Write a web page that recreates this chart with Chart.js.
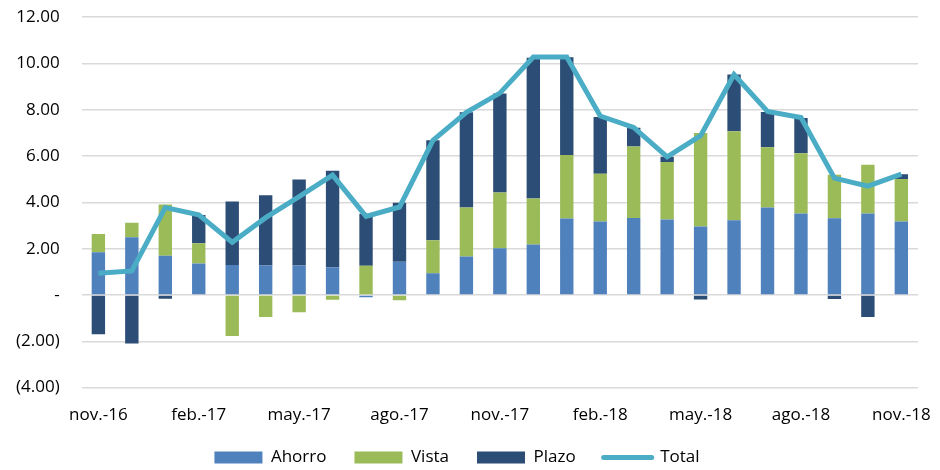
<!DOCTYPE html>
<html>
<head>
    <meta charset="UTF-8">
    <title>Ahorro, Vista, Plazo</title>
    <script src="https://cdn.jsdelivr.net/npm/chart.js"></script>
    <style>
        html, body { margin: 0; padding: 0; background: #fff; overflow: hidden; }
        #marco { position: relative; width: 940px; height: 470px; overflow: hidden; }
        #wrap { position: absolute; left: -14px; top: -15px; width: 954px; height: 491px; }
    </style>
</head>
<body>
    <div id="marco"><div id="wrap"><canvas id="chart"></canvas></div></div>
    <script>
        // meses
        var meses = ['nov.-16', 'dic.-16', 'ene.-17', 'feb.-17', 'mar.-17', 'abr.-17', 'may.-17', 'jun.-17',
            'jul.-17', 'ago.-17', 'sep.-17', 'oct.-17', 'nov.-17', 'dic.-17', 'ene.-18', 'feb.-18', 'mar.-18',
            'abr.-18', 'may.-18', 'jun.-18', 'jul.-18', 'ago.-18', 'sep.-18', 'oct.-18', 'nov.-18'];

        // series
        var ahorro = [1.85, 2.50, 1.70, 1.36, 1.30, 1.27, 1.27, 1.20, -0.10, 1.44, 0.94, 1.66, 2.02,
            2.18, 3.30, 3.17, 3.33, 3.26, 2.96, 3.23, 3.78, 3.52, 3.32, 3.52, 3.17];
        var vista = [0.79, 0.62, 2.21, 0.88, -1.77, -0.95, -0.75, -0.20, 1.26, -0.23, 1.43, 2.12, 2.41,
            1.99, 2.75, 2.07, 3.09, 2.48, 4.04, 3.84, 2.60, 2.60, 1.87, 2.11, 1.84];
        var plazo = [-1.70, -2.09, -0.16, 1.22, 2.74, 3.04, 3.72, 4.17, 2.25, 2.54, 4.31, 4.11, 4.27,
            6.08, 4.22, 2.45, 0.80, 0.23, -0.19, 2.45, 1.53, 1.53, -0.17, -0.95, 0.21];
        var total = [0.94, 1.04, 3.78, 3.46, 2.28, 3.34, 4.25, 5.18, 3.40, 3.80, 6.68, 7.89, 8.72,
            10.28, 10.28, 7.73, 7.24, 5.97, 6.88, 9.52, 7.93, 7.67, 5.05, 4.70, 5.22];

        var fuente = "'Open Sans', 'Liberation Sans', sans-serif";

        function formatoEje(v) {
            if (v === 0) return '-';
            if (v < 0) return '(' + Math.abs(v).toFixed(2) + ')';
            return v.toFixed(2);
        }

        // las etiquetas del eje x no se recortan al alto reducido del eje
        var sinRecorte = {
            id: 'sinRecorte',
            beforeDraw: function (chart) {
                chart.scales.x._computeLabelArea = function () { return undefined; };
            }
        };

        var ctx = document.getElementById('chart').getContext('2d');
        var chart = new Chart(ctx, {
            type: 'bar',
            data: {
                labels: meses,
                datasets: [
                    { label: 'Ahorro', data: ahorro, backgroundColor: '#4F81BD', stack: 's', order: 1,
                      barPercentage: 0.4, categoryPercentage: 1 },
                    { label: 'Vista', data: vista, backgroundColor: '#9BBB59', stack: 's', order: 1,
                      barPercentage: 0.4, categoryPercentage: 1 },
                    { label: 'Plazo', data: plazo, backgroundColor: '#2C4D75', stack: 's', order: 1,
                      barPercentage: 0.4, categoryPercentage: 1 },
                    { label: 'Total', data: total, type: 'line', borderColor: '#4BACC6', backgroundColor: '#4BACC6',
                      borderWidth: 5, pointRadius: 0, tension: 0, stack: 'total', order: 0 }
                ]
            },
            plugins: [sinRecorte],
            options: {
                responsive: true,
                maintainAspectRatio: false,
                animation: false,
                layout: { padding: { top: 0, right: 20, left: 8, bottom: 0 } },
                scales: {
                    x: {
                        stacked: true,
                        grid: { display: false },
                        border: { display: false },
                        afterFit: function (scale) { scale.height -= 13; },
                        ticks: {
                            autoSkip: false,
                            maxRotation: 0,
                            padding: 9,
                            color: '#000',
                            font: { family: fuente, size: 17 },
                            callback: function (v, i) { return i % 3 === 0 ? meses[i] : ''; }
                        }
                    },
                    y: {
                        stacked: true,
                        min: -4,
                        max: 12,
                        border: { display: false },
                        grid: { color: '#d9d9d9', lineWidth: 1.5, drawTicks: false },
                        ticks: {
                            stepSize: 2,
                            padding: 22,
                            color: '#000',
                            font: { family: fuente, size: 17 },
                            callback: function (v) { return formatoEje(v); }
                        }
                    }
                },
                plugins: {
                    tooltip: { enabled: false },
                    legend: {
                        position: 'bottom',
                        sort: function (a, b) { return a.datasetIndex - b.datasetIndex; },
                        labels: {
                            usePointStyle: true,
                            pointStyleWidth: 48,
                            boxHeight: 12,
                            padding: 28,
                            color: '#000',
                            font: { family: fuente, size: 17 },
                            generateLabels: function (c) {
                                return c.data.datasets.map(function (ds, i) {
                                    var esLinea = ds.type === 'line';
                                    return {
                                        text: ds.label,
                                        datasetIndex: i,
                                        fillStyle: ds.backgroundColor,
                                        strokeStyle: esLinea ? ds.borderColor : ds.backgroundColor,
                                        lineWidth: esLinea ? 5 : 0,
                                        lineCap: 'round',
                                        pointStyle: esLinea ? 'line' : 'rect',
                                        fontColor: '#000',
                                        hidden: false
                                    };
                                });
                            }
                        }
                    }
                }
            }
        });
    </script>
</body>
</html>
